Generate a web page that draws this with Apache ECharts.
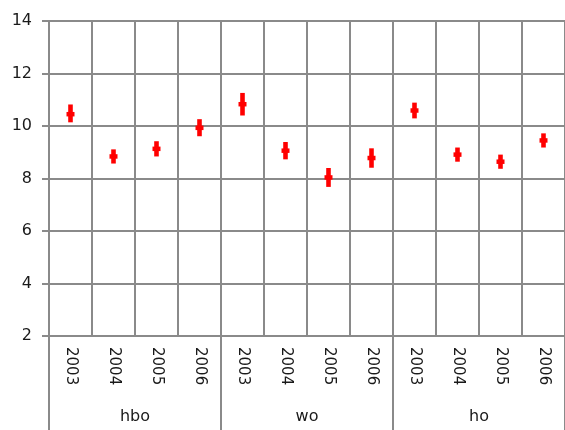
<!DOCTYPE html>
<html>
<head>
<meta charset="utf-8">
<script src="https://cdn.jsdelivr.net/npm/echarts@6/dist/echarts.min.js"></script>
<style>
  html, body { margin: 0; padding: 0; background: #fff; }
  #chart { width: 565px; height: 430px; }
</style>
</head>
<body>
<div id="chart"></div>
<script>
// Yearly estimates per group, with lower / upper interval bounds
const years = ['2003', '2004', '2005', '2006', '2003', '2004', '2005', '2006', '2003', '2004', '2005', '2006'];
const groups = ['hbo', 'wo', 'ho'];
const estimate = [10.45, 8.84, 9.13, 9.93, 10.83, 9.06, 8.04, 8.78, 10.59, 8.91, 8.64, 9.45];
const lower    = [10.14, 8.57, 8.84, 9.61, 10.40, 8.73, 7.68, 8.41, 10.29, 8.64, 8.37, 9.18];
const upper    = [10.82, 9.11, 9.42, 10.26, 11.26, 9.39, 8.40, 9.15, 10.89, 9.18, 8.91, 9.72];
const yTicks = { min: 2, max: 14, step: 2 };

const gridColor = '#8a8a8a';
const red = '#ff0000';
const font = 'DejaVu Sans';

const chart = echarts.init(document.getElementById('chart'));

const points = years.map((y, i) => [i, estimate[i], lower[i], upper[i]]);

chart.setOption({
  animation: false,
  grid: { left: 49, top: 21, width: 517, height: 315 },
  xAxis: [
    {
      type: 'category',
      data: years,
      position: 'bottom',
      axisLine: { show: true, lineStyle: { color: gridColor, width: 2 } },
      axisTick: { show: false },
      splitLine: { show: true, interval: 0, lineStyle: { color: gridColor, width: 2 } },
      axisLabel: {
        interval: 0, rotate: -90, margin: 11,
        color: '#1a1a1a', fontFamily: font, fontSize: 15
      }
    },
    {
      type: 'category',
      data: groups,
      position: 'bottom',
      axisLine: { show: false },
      axisTick: { show: true, length: 96, lineStyle: { color: gridColor, width: 2 } },
      axisLabel: {
        interval: 0, margin: 73,
        color: '#1a1a1a', fontFamily: font, fontSize: 16
      }
    }
  ],
  yAxis: {
    type: 'value',
    min: yTicks.min, max: yTicks.max, interval: yTicks.step,
    axisLine: { show: true, lineStyle: { color: gridColor, width: 2 } },
    axisTick: { show: true, length: 7, lineStyle: { color: gridColor, width: 2 } },
    splitLine: { show: true, lineStyle: { color: gridColor, width: 2 } },
    axisLabel: { margin: 17, color: '#1a1a1a', fontFamily: font, fontSize: 16 }
  },
  series: [{
    type: 'custom',
    xAxisIndex: 0,
    yAxisIndex: 0,
    data: points,
    encode: { x: 0, y: [1, 2, 3] },
    renderItem: function (params, api) {
      const x = api.value(0);
      const mid = api.coord([x, api.value(1)]);
      const lo = api.coord([x, api.value(2)]);
      const hi = api.coord([x, api.value(3)]);
      return {
        type: 'group',
        children: [
          {
            type: 'line',
            shape: { x1: mid[0], y1: lo[1], x2: mid[0], y2: hi[1] },
            style: { stroke: red, lineWidth: 4.6, lineCap: 'butt' }
          },
          {
            type: 'line',
            shape: { x1: mid[0] - 4, y1: mid[1], x2: mid[0] + 4, y2: mid[1] },
            style: { stroke: red, lineWidth: 4.5, lineCap: 'butt' }
          }
        ]
      };
    }
  }]
});
</script>
</body>
</html>
